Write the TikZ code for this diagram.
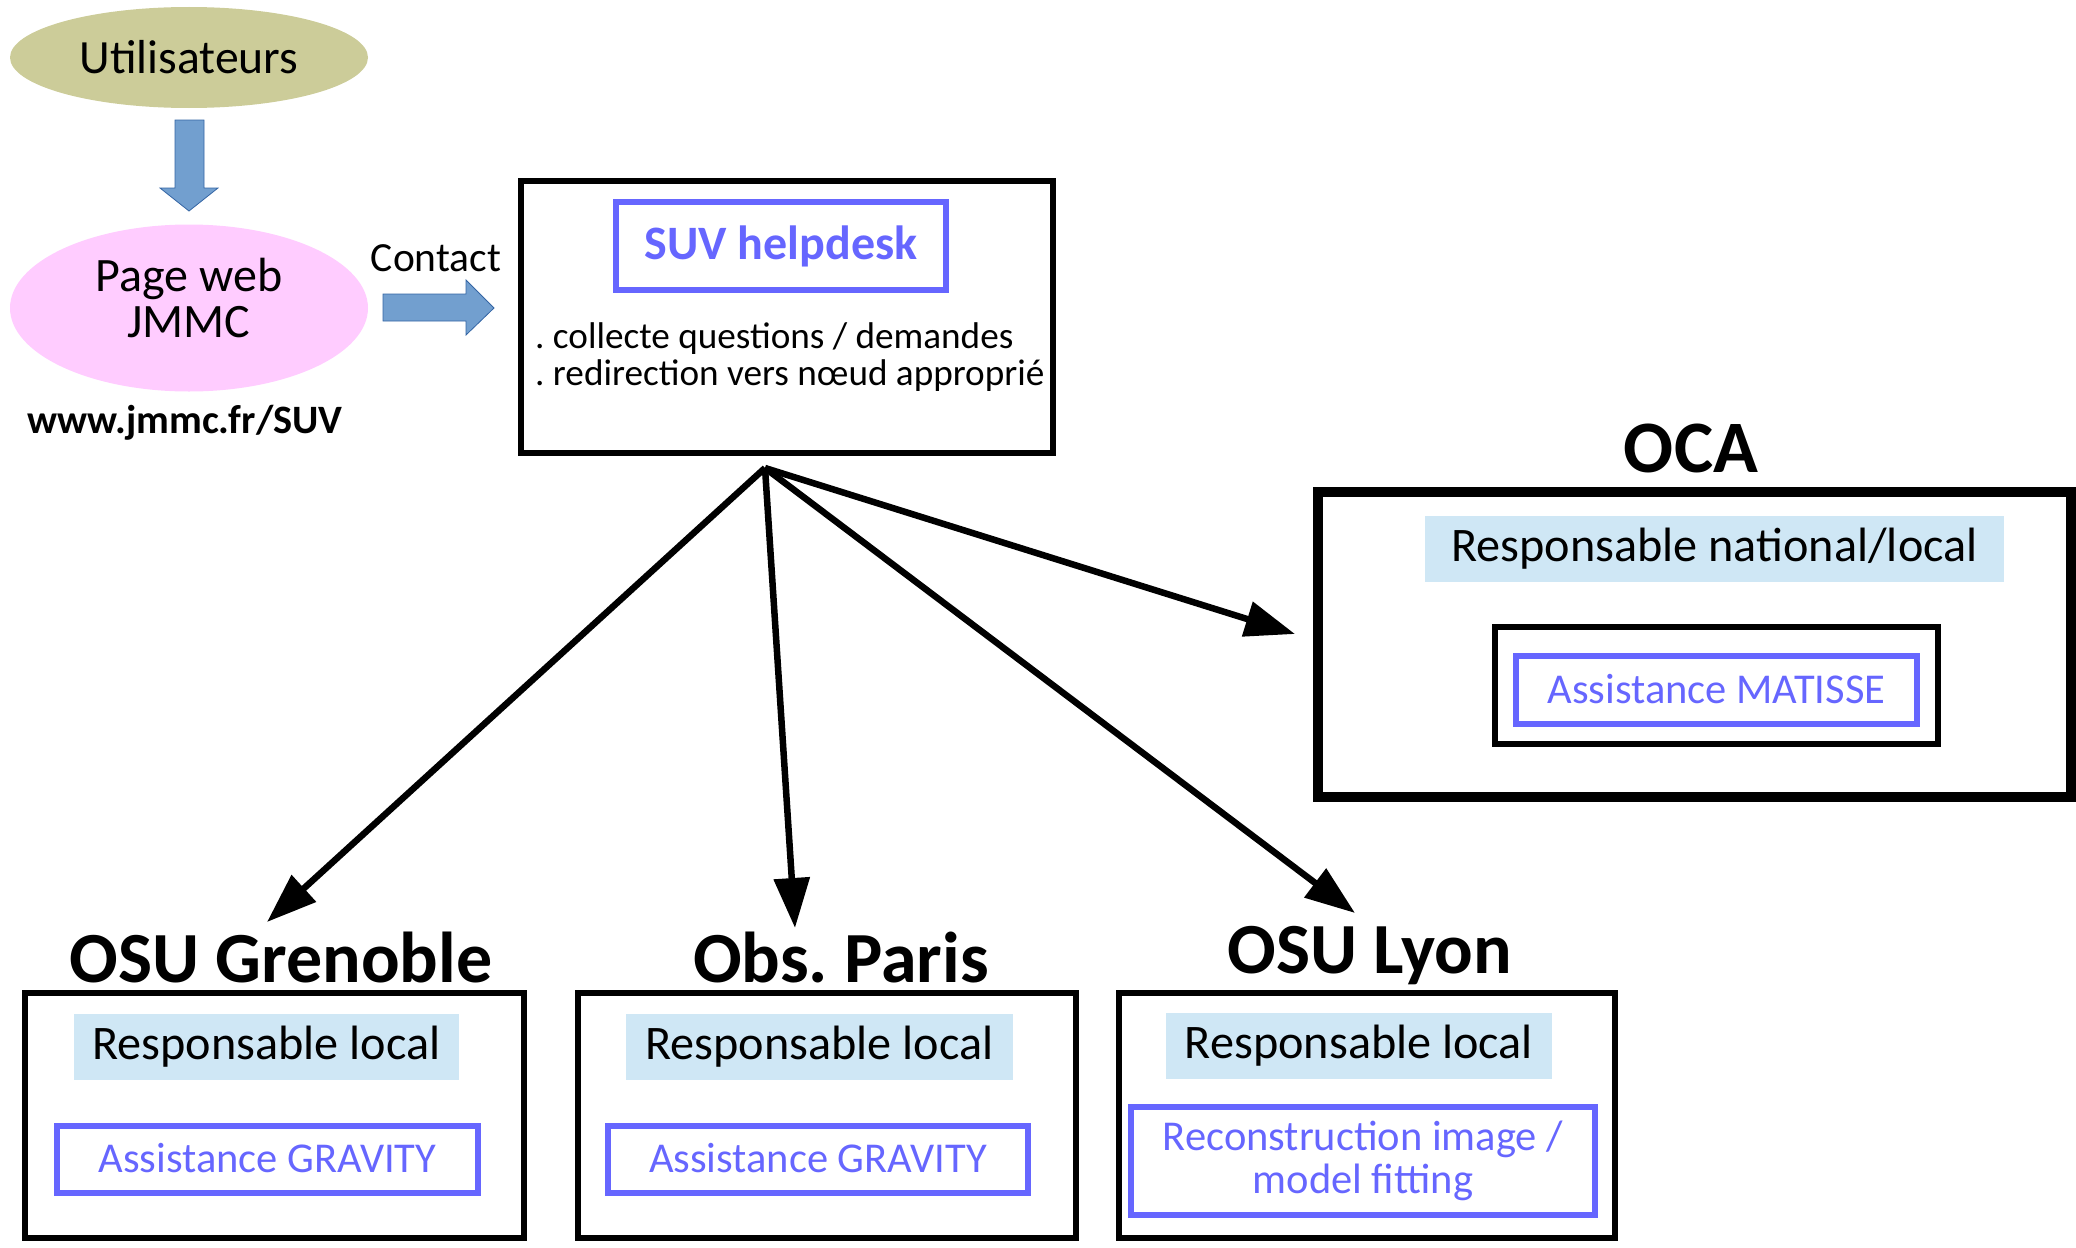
\documentclass[tikz,border=0pt]{standalone}
\usepackage{fontspec}
\setmainfont{Carlito}
\usetikzlibrary{arrows.meta,shapes.geometric}
\definecolor{cUser}{HTML}{CCCC99}
\definecolor{cWeb}{HTML}{FFCCFF}
\definecolor{cArrow}{HTML}{729FCF}
\definecolor{cArrowLine}{HTML}{3465A4}
\definecolor{cBlue}{HTML}{6666FF}
\definecolor{cResp}{HTML}{CFE7F5}
\newcommand\fsz[2]{\fontsize{#1}{#2}\selectfont}
\frenchspacing
\begin{document}
\begin{tikzpicture}[x=1pt,y=-1pt,
  ell/.style={ellipse, inner sep=0pt, minimum width=358pt},
  orgbox/.style={draw=black, line width=6.5pt, rectangle, inner sep=0pt},
  bluebox/.style={draw=cBlue, line width=5.5pt, rectangle, inner sep=0pt, text=cBlue, align=center},
  resp/.style={fill=cResp, rectangle, inner sep=0pt, minimum height=66pt, font=\fsz{48.2}{58}},
  title/.style={font=\bfseries\fsz{72}{86}, inner sep=0pt},
  link/.style={line width=6.5pt, -{Triangle[length=50pt,width=35pt]}},
  blockarrow/.style={fill=cArrow, draw=cArrowLine, line width=0.8pt, line join=miter}
]
\useasboundingbox (0,0) rectangle (2076,1247);

% users and web page
\node[ell, fill=cUser, minimum height=101pt, font=\fsz{47.7}{57}] (users) at (189,57.5) {Utilisateurs};
\node[ell, fill=cWeb, minimum height=167pt] (web) at (189,308) {};
\node[align=center, font=\fsz{48}{46}, inner sep=0pt] (webtxt) at (189,298) {Page web\\JMMC};
\node[font=\bfseries\fsz{40.3}{48}, inner sep=0pt] (url) at (185,423) {www.jmmc.fr/SUV};
\node[font=\fsz{41.5}{50}, inner sep=0pt] (contact) at (436,258) {Contact};

\draw[blockarrow] (175,120) -- (204,120) -- (204,188) -- (218,188) -- (189,211) -- (160,188) -- (175,188) -- cycle;
\draw[blockarrow] (383,294) -- (466,294) -- (466,280) -- (494,308) -- (466,335) -- (466,321) -- (383,321) -- cycle;

% SUV helpdesk
\node[orgbox, line width=6pt, minimum width=532pt, minimum height=272pt] (suv) at (787,317) {};
\node[bluebox, minimum width=330pt, minimum height=88pt, font=\bfseries\fsz{48}{58}] (helpdesk) at (781,246) {SUV helpdesk};
\node[anchor=west, align=left, font=\fsz{37.2}{37}, inner sep=0pt] (tasks) at (535,357) {. collecte questions / demandes\\. redirection vers nœud approprié};

% OCA
\node[title, font=\bfseries\fsz{74}{88}] (ocat) at (1691,448) {OCA};
\node[orgbox, line width=10pt, minimum width=753pt, minimum height=305pt] (oca) at (1694.5,644.5) {};
\node[resp, minimum width=579pt] (ocaresp) at (1714.5,548.5) {Responsable national/local\hspace{8pt}};
\node[orgbox, line width=6pt, minimum width=443pt, minimum height=117pt] (ocainner) at (1716.5,685.5) {};
\node[bluebox, minimum width=401pt, minimum height=68pt, font=\fsz{42.5}{51}] (matisse) at (1716.5,690) {\raisebox{3pt}{Assistance MATISSE}};

% Grenoble
\node[title] (gret) at (281,957) {OSU Grenoble};
\node[orgbox, minimum width=499pt, minimum height=245pt] (gre) at (274.5,1115.5) {};
\node[resp, minimum width=385pt] (greresp) at (266.5,1047) {Responsable local};
\node[bluebox, minimum width=421pt, minimum height=67pt, font=\fsz{42.5}{51}] (gregrav) at (267.5,1159.5) {\raisebox{3pt}{Assistance GRAVITY}};

% Paris
\node[title] (part) at (841,957) {Obs. Paris};
\node[orgbox, minimum width=498pt, minimum height=245pt] (par) at (827,1115.5) {};
\node[resp, minimum width=387pt] (parresp) at (819.5,1047) {Responsable local};
\node[bluebox, minimum width=420pt, minimum height=67pt, font=\fsz{42.5}{51}] (pargrav) at (818,1159.5) {\raisebox{3pt}{Assistance GRAVITY}};

% Lyon
\node[title] (lyot) at (1370,956) {OSU Lyon};
\node[orgbox, minimum width=496pt, minimum height=245pt] (lyo) at (1367,1115.5) {};
\node[resp, minimum width=386pt] (lyoresp) at (1359,1046) {Responsable local};
\node[bluebox, minimum width=464pt, minimum height=108pt, font=\fsz{42.5}{43}] (lyorec) at (1363,1161) {Reconstruction image /\\model fitting};

% connectors
\coordinate (hub) at (765,468);
\coordinate (tG) at (267,922);
\coordinate (tP) at (795,928);
\coordinate (tL) at (1355,913);
\coordinate (tO) at (1295,634);
\draw[link] (hub) -- (tG);
\draw[link] (hub) -- (tP);
\draw[link] (hub) -- (tL);
\draw[link] (hub) -- (tO);
\end{tikzpicture}
\end{document}
